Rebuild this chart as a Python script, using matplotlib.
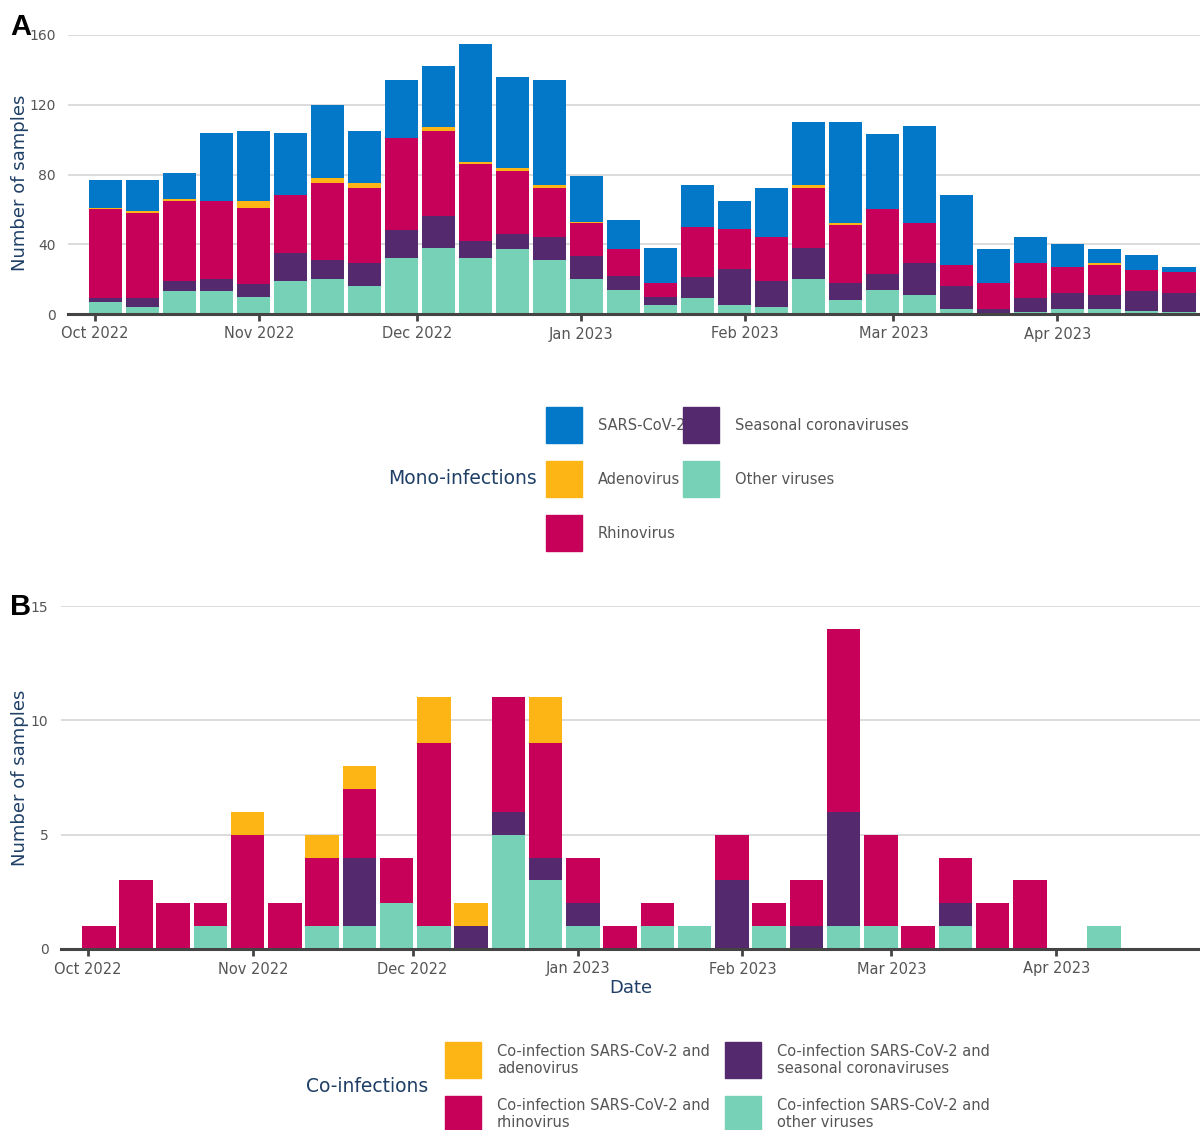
import matplotlib
matplotlib.use('Agg')
import matplotlib.pyplot as plt
import matplotlib.dates as mdates
from matplotlib.patches import Rectangle
import numpy as np
import pandas as pd

plt.rcParams['font.family'] = 'DejaVu Sans'

# weekly bins (week start dates)
weeks = pd.date_range('2022-10-03', periods=30, freq='7D')

# panel A - mono-infections per week
other_a = [7, 4, 13, 13, 10, 19, 20, 16, 32, 38, 32, 37, 31, 20, 14, 5, 9, 5, 4, 20, 8, 14, 11, 3, 0, 1, 3, 3, 2, 1]
seasonal_a = [2, 5, 6, 7, 7, 16, 11, 13, 16, 18, 10, 9, 13, 13, 8, 5, 12, 21, 15, 18, 10, 9, 18, 13, 3, 8, 9, 8, 11, 11]
rhino_a = [51, 49, 46, 45, 44, 33, 44, 43, 53, 49, 44, 36, 28, 19, 15, 8, 29, 23, 25, 34, 33, 37, 23, 12, 15, 20, 15, 17, 12, 12]
adeno_a = [1, 1, 1, 0, 4, 0, 3, 3, 0, 2, 1, 2, 2, 1, 0, 0, 0, 0, 0, 2, 1, 0, 0, 0, 0, 0, 0, 1, 0, 0]
sars_a = [16, 18, 15, 39, 40, 36, 42, 30, 33, 35, 68, 52, 60, 26, 17, 20, 24, 16, 28, 36, 58, 43, 56, 40, 19, 15, 13, 8, 9, 3]

# panel B - co-infections per week
other_b = [0, 0, 0, 1, 0, 0, 1, 1, 2, 1, 0, 5, 3, 1, 0, 1, 1, 0, 1, 0, 1, 1, 0, 1, 0, 0, 0, 1, 0, 0]
seasonal_b = [0, 0, 0, 0, 0, 0, 0, 3, 0, 0, 1, 1, 1, 1, 0, 0, 0, 3, 0, 1, 5, 0, 0, 1, 0, 0, 0, 0, 0, 0]
rhino_b = [1, 3, 2, 1, 5, 2, 3, 3, 2, 8, 0, 5, 5, 2, 1, 1, 0, 2, 1, 2, 8, 4, 1, 2, 2, 3, 0, 0, 0, 0]
adeno_b = [0, 0, 0, 0, 1, 0, 1, 1, 0, 2, 1, 0, 2, 0, 0, 0, 0, 0, 0, 0, 0, 0, 0, 0, 0, 0, 0, 0, 0, 0]

labels_a = ['Other viruses', 'Seasonal coronaviruses', 'Rhinovirus', 'Adenovirus', 'SARS-CoV-2']
labels_b = ['Co-infection SARS-CoV-2 and\nother viruses',
            'Co-infection SARS-CoV-2 and\nseasonal coronaviruses',
            'Co-infection SARS-CoV-2 and\nrhinovirus',
            'Co-infection SARS-CoV-2 and\nadenovirus']

c_other = '#76D1B6'
c_seas = '#55296E'
c_rhino = '#C7005A'
c_adeno = '#FDB515'
c_sars = '#0378C8'
navy = '#1F3F66'
grey = '#555555'

W, H = 1200, 1130
fig = plt.figure(figsize=(W / 100, H / 100), dpi=100)


def fx(px):
    return px / W


def fy(py):
    return 1 - py / H


def style_axis(ax, ymax, ystep):
    ax.set_ylim(0, ymax)
    ax.set_yticks(np.arange(0, ymax + 1, ystep))
    ax.set_xlim(pd.Timestamp('2022-10-01') - pd.Timedelta(days=5.1),
                pd.Timestamp('2022-10-01') + pd.Timedelta(days=209))
    ax.xaxis.set_major_locator(mdates.MonthLocator())
    ax.xaxis.set_major_formatter(mdates.DateFormatter('%b %Y'))
    for s in ['top', 'right', 'left']:
        ax.spines[s].set_visible(False)
    ax.spines['bottom'].set_color('#444444')
    ax.spines['bottom'].set_linewidth(2.2)
    ax.spines['bottom'].set_zorder(5)
    ax.grid(axis='y', color='#d6d6d6', linewidth=1.2)
    ax.set_axisbelow(True)
    ax.tick_params(axis='y', length=0, pad=9, labelsize=10, labelcolor=grey)
    ax.tick_params(axis='x', length=5, width=2, color='#444444', pad=4,
                   labelsize=10.5, labelcolor=grey)


def stack(ax, series, colors):
    bottom = np.zeros(len(weeks))
    for vals, col in zip(series, colors):
        ax.bar(weeks, vals, bottom=bottom, width=6.3, color=col, linewidth=0)
        bottom = bottom + np.array(vals)


# ---- panel A
axA = fig.add_axes([fx(68), fy(314), fx(1200 - 68), (314 - 35) / H])
stack(axA, [other_a, seasonal_a, rhino_a, adeno_a, sars_a],
      [c_other, c_seas, c_rhino, c_adeno, c_sars])
style_axis(axA, 160, 40)
axA.set_ylabel('Number of samples', fontsize=13, color=navy)
axA.yaxis.set_label_coords((29 - 68) / (1200 - 68), 0.47)
fig.text(fx(10), fy(27), 'A', fontsize=21, fontweight='bold', va='center',
         ha='left', family='Liberation Sans')

# ---- panel B
axB = fig.add_axes([fx(61), fy(949), fx(1200 - 61), (949 - 606) / H])
stack(axB, [other_b, seasonal_b, rhino_b, adeno_b],
      [c_other, c_seas, c_rhino, c_adeno])
style_axis(axB, 15, 5)
axB.set_ylabel('Number of samples', fontsize=13, color=navy)
axB.yaxis.set_label_coords((29 - 61) / (1200 - 61), 0.5)
axB.set_xlabel('Date', fontsize=13, color=navy, labelpad=2)
fig.text(fx(10), fy(607), 'B', fontsize=21, fontweight='bold', va='center',
         ha='left', family='Liberation Sans')


def legend_item(x, yc, color, text, tx):
    fig.text(fx(tx), fy(yc), text, fontsize=10.5, color=grey, va='center',
             ha='left', zorder=1, linespacing=1.1)
    fig.add_artist(Rectangle((fx(x), fy(yc + 18)), fx(36), 36 / H,
                             transform=fig.transFigure, color=color, zorder=2))


# legend A (mono-infections)
fig.text(fx(537), fy(479), 'Mono-infections', fontsize=13.5, color=navy,
         ha='right', va='center')
legend_item(546, 425, c_sars, 'SARS-CoV-2', 598)
legend_item(546, 479, c_adeno, 'Adenovirus', 598)
legend_item(546, 533, c_rhino, 'Rhinovirus', 598)
legend_item(683, 425, c_seas, 'Seasonal coronaviruses', 735)
legend_item(683, 479, c_other, 'Other viruses', 735)

# legend B (co-infections)
fig.text(fx(428), fy(1087), 'Co-infections', fontsize=13.5, color=navy,
         ha='right', va='center')
legend_item(445, 1060, c_adeno, labels_b[3], 497)
legend_item(445, 1114, c_rhino, labels_b[2], 497)
legend_item(725, 1060, c_seas, labels_b[1], 777)
legend_item(725, 1114, c_other, labels_b[0], 777)

fig.savefig('out.png', dpi=100, facecolor='white')
